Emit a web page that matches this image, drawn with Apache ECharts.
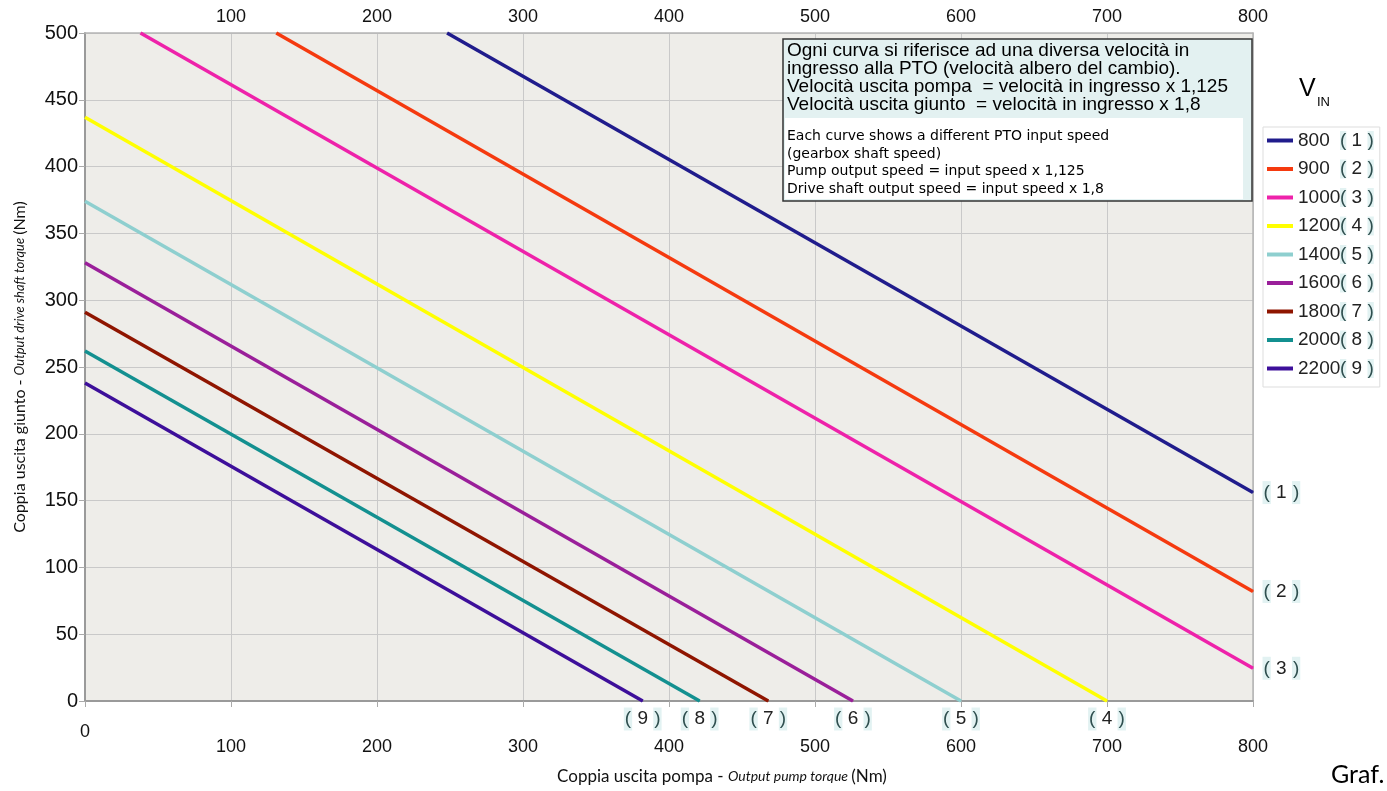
<!DOCTYPE html>
<html>
<head>
<meta charset="utf-8">
<script src="https://cdn.jsdelivr.net/npm/echarts@6/dist/echarts.min.js"></script>
<style>html,body{margin:0;padding:0;background:#fff;}#c{width:1387px;height:791px;}</style>
</head>
<body>
<div id="c"></div>
<script>
// Input speeds (rpm) and curve numbers
const speeds = ['800', '900', '1000', '1200', '1400', '1600', '1800', '2000', '2200'];
const curveIds = [1, 2, 3, 4, 5, 6, 7, 8, 9];
const colors = ['#201c8c', '#f53a0f', '#ee22aa', '#ffff00', '#8ecfcf', '#9a1f9a', '#8f1500', '#139090', '#3d0f9a'];
// Start point of each curve (pump torque, drive shaft torque)
const startPump  = [248, 131, 38, 0, 0, 0, 0, 0, 0];
const startDrive = [500, 500, 500, 437, 374, 328, 291, 262, 238];
// End point of each curve
const endPump  = [800, 800, 800, 700, 600, 526, 468, 421, 382];
const endDrive = [156, 82, 24.5, 0, 0, 0, 0, 0, 0];
const xTicks = [0, 100, 200, 300, 400, 500, 600, 700, 800];
const yTicks = [0, 50, 100, 150, 200, 250, 300, 350, 400, 450, 500];

const chart = echarts.init(document.getElementById('c'));
const F = '"Liberation Sans", Arial, sans-serif';
const G = 'Lato, "DejaVu Sans", sans-serif';

const curveLabel = (id) => '{p|(}{d| ' + id + ' }{p|)}';
const labelRich = {
  p: { backgroundColor: '#e2f2f2', color: '#2f4f4f', fontSize: 19, fontFamily: F, padding: [2, 1, 2, 1] },
  d: { color: '#222', fontSize: 19, fontFamily: F, padding: [2, 0, 2, 0] }
};

const series = speeds.map((s, i) => {
  const endsRight = endDrive[i] > 0;
  return {
    name: s,
    type: 'line',
    xAxisIndex: 0,
    yAxisIndex: 0,
    symbol: 'none',
    lineStyle: { width: 3.5, color: colors[i] },
    itemStyle: { color: colors[i] },
    clip: false,
    z: 10 - i,
    data: [
      [startPump[i], startDrive[i]],
      [endPump[i], endDrive[i]]
    ],
    markPoint: {
      silent: true,
      symbol: 'circle',
      symbolSize: 1,
      itemStyle: { color: colors[i] },
      data: [{
        coord: [endPump[i], endDrive[i]],
        label: {
          show: true,
          position: endsRight ? 'right' : 'bottom',
          distance: endsRight ? 9 : 6,
          formatter: curveLabel(curveIds[i]),
          rich: labelRich
        }
      }]
    }
  };
});

const option = {
  backgroundColor: '#ffffff',
  animation: false,
  grid: { left: 85, right: 134, top: 33, bottom: 90, show: true, backgroundColor: '#eeede9', borderWidth: 0 },
  legend: {
    orient: 'vertical',
    left: 1263, top: 127,
    padding: [4, 6, 9, 4],
    backgroundColor: '#ffffff',
    borderColor: '#dddddd', borderWidth: 1,
    itemWidth: 26, itemHeight: 4, itemGap: 9.5,
    icon: 'rect',
    data: speeds,
    formatter: (name) => '{n|' + name + '}' + curveLabel(curveIds[speeds.indexOf(name)]),
    textStyle: {
      fontFamily: F, fontSize: 19, color: '#222',
      rich: {
        n: { width: 42, fontSize: 19, fontFamily: F, color: '#222' },
        p: { backgroundColor: '#e2f2f2', color: '#2f4f4f', fontSize: 19, fontFamily: F },
        d: { color: '#222', fontSize: 19, fontFamily: F }
      }
    }
  },
  xAxis: [
    {
      type: 'value', position: 'bottom', min: 0, max: 800, interval: 100,
      axisLine: { show: true, onZero: false, lineStyle: { color: '#9a9a9a', width: 2 } },
      axisTick: { show: true, length: 6, lineStyle: { color: '#aaaaaa' } },
      splitLine: { show: true, lineStyle: { color: '#c9c9c9', width: 1 } },
      axisLabel: { margin: 37, fontSize: 18, fontFamily: F, color: '#111', formatter: (v) => v === 0 ? '' : String(v) },
      name: '{a|Coppia uscita pompa - }{b|Output pump torque }{a|(Nm)}',
      nameLocation: 'middle', nameGap: 67,
      nameTextStyle: {
        padding: [0, 0, 0, 106],
        rich: {
          a: { fontSize: 17, fontFamily: G, color: '#111' },
          b: { fontSize: 14, fontFamily: G, fontStyle: 'italic', color: '#111' }
        }
      }
    },
    {
      type: 'value', position: 'bottom', offset: 0, min: 0, max: 800, interval: 100,
      axisLine: { show: false }, axisTick: { show: false }, splitLine: { show: false },
      axisLabel: { margin: 22, fontSize: 18, fontFamily: F, color: '#111', formatter: (v) => v === 0 ? '0' : '' }
    },
    {
      type: 'value', position: 'top', min: 0, max: 800, interval: 100,
      axisLine: { show: true, onZero: false, lineStyle: { color: '#b5b5b5', width: 1.5 } },
      axisTick: { show: false }, splitLine: { show: false },
      axisLabel: { margin: 7, fontSize: 18, fontFamily: F, color: '#111', formatter: (v) => v === 0 ? '' : String(v) }
    }
  ],
  yAxis: [
    {
      type: 'value', position: 'left', min: 0, max: 500, interval: 50,
      axisLine: { show: true, onZero: false, lineStyle: { color: '#9a9a9a', width: 2 } },
      axisTick: { show: true, length: 6, lineStyle: { color: '#aaaaaa' } },
      splitLine: { show: true, lineStyle: { color: '#c9c9c9', width: 1 } },
      axisLabel: { margin: 7, fontSize: 20, fontFamily: F, color: '#111' },
      name: '{a|Coppia uscita giunto - }{b|Output drive shaft torque }{a|(Nm)}',
      nameLocation: 'middle', nameGap: 57, nameRotate: 90,
      nameTextStyle: {
        rich: {
          a: { fontSize: 16, fontFamily: G, color: '#111' },
          b: { fontSize: 13, fontFamily: G, fontStyle: 'italic', color: '#111' }
        }
      }
    },
    {
      type: 'value', position: 'right', min: 0, max: 500, interval: 50,
      axisLine: { show: true, onZero: false, lineStyle: { color: '#b5b5b5', width: 1.5 } },
      axisTick: { show: false }, splitLine: { show: false }, axisLabel: { show: false }
    }
  ],
  graphic: [
    { type: 'rect', z: 100, shape: { x: 783, y: 39, width: 469, height: 162 },
      style: { fill: '#e3f1f1', stroke: '#333333', lineWidth: 1.5 } },
    { type: 'rect', z: 101, shape: { x: 785, y: 118, width: 458, height: 81 },
      style: { fill: '#ffffff' } },
    { type: 'text', z: 102, x: 787, y: 42,
      style: { text: 'Ogni curva si riferisce ad una diversa velocità in\ningresso alla PTO (velocità albero del cambio).\nVelocità uscita pompa  = velocità in ingresso x 1,125\nVelocità uscita giunto  = velocità in ingresso x 1,8',
        font: '19px ' + F, lineHeight: 17.8, fill: '#000', verticalAlign: 'top' } },
    { type: 'text', z: 102, x: 787, y: 128,
      style: { text: 'Each curve shows a different PTO input speed\n(gearbox shaft speed)\nPump output speed = input speed x 1,125\nDrive shaft output speed = input speed x 1,8',
        font: '14px "DejaVu Sans", sans-serif', lineHeight: 17.4, fill: '#000', verticalAlign: 'top' } },
    { type: 'text', z: 102, x: 1299, y: 77,
      style: { text: 'V', font: '25px ' + F, fill: '#000', verticalAlign: 'top' } },
    { type: 'text', z: 102, x: 1317, y: 96,
      style: { text: 'IN', font: '13px ' + F, fill: '#000', verticalAlign: 'top' } },
    { type: 'text', z: 102, x: 1331, y: 762,
      style: { text: 'Graf.', font: '25px ' + G, fill: '#000', verticalAlign: 'top' } }
  ],
  series: series
};
chart.setOption(option);
</script>
</body>
</html>
